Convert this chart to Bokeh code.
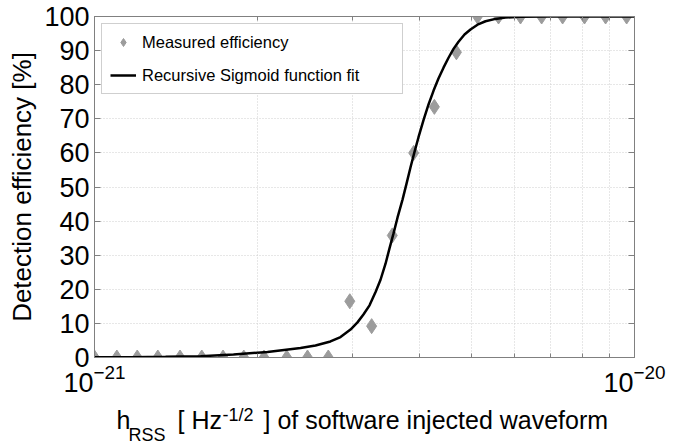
from bokeh.plotting import figure
from bokeh.layouts import column
from bokeh.models import (Range1d, FixedTicker, LinearAxis, LogAxis, Legend, LegendItem,
                          CustomJSTickFormatter, LogTickFormatter)
from bokeh.core.properties import value
from bokeh.embed import file_html
from bokeh.resources import INLINE

# ---------------- data ----------------
h_measured = [1.00e-21, 1.10e-21, 1.20e-21, 1.31e-21, 1.44e-21, 1.58e-21, 1.73e-21,
              1.89e-21, 2.06e-21, 2.27e-21, 2.48e-21, 2.71e-21, 2.97e-21, 3.26e-21,
              3.56e-21, 3.90e-21, 4.26e-21, 4.68e-21, 5.12e-21, 5.60e-21, 6.15e-21,
              6.73e-21, 7.36e-21, 8.08e-21, 8.84e-21, 9.67e-21]
eff_measured = [0, 0, 0, 0, 0, 0, 0, 0, 0, 0, 0, 0,
                16.5, 9.2, 35.8, 60.0, 73.5, 89.5,
                100, 100, 100, 100, 100, 100, 100, 100]

h_fit = [1.000e-21, 1.166e-21, 1.354e-21, 1.572e-21, 1.809e-21, 2.091e-21, 2.407e-21,
         2.566e-21, 2.735e-21, 2.855e-21, 2.979e-21, 3.069e-21, 3.148e-21, 3.231e-21,
         3.315e-21, 3.386e-21, 3.459e-21, 3.518e-21, 3.579e-21, 3.640e-21, 3.719e-21,
         3.783e-21, 3.848e-21, 3.914e-21, 3.981e-21, 4.067e-21, 4.155e-21, 4.244e-21,
         4.335e-21, 4.429e-21, 4.525e-21, 4.622e-21, 4.722e-21, 4.844e-21, 4.969e-21,
         5.120e-21, 5.298e-21, 5.528e-21, 5.769e-21, 6.151e-21, 6.842e-21, 1.000e-20]
eff_fit = [0.05, 0.1, 0.2, 0.35, 0.9, 1.6, 2.8,
           3.5, 4.7, 6.0, 8.2, 10.3, 12.6, 15.3,
           19.2, 22.8, 27.5, 32.0, 36.4, 41.0, 46.3,
           51.0, 55.8, 60.3, 64.6, 69.6, 74.2, 78.2,
           81.8, 85.0, 87.9, 90.5, 92.6, 94.7, 96.2,
           97.6, 98.6, 99.3, 99.7, 99.9, 100.0, 100.0]

x_major_ticks = [1e-21, 1e-20]
x_minor_ticks = [2e-21, 3e-21, 4e-21, 5e-21, 6e-21, 7e-21, 8e-21, 9e-21]
y_ticks = [0, 10, 20, 30, 40, 50, 60, 70, 80, 90, 100]

series_labels = ["Measured efficiency", "Recursive Sigmoid function fit"]
y_title = "Detection efficiency [%]"
x_title_parts = ["h", "RSS", "[ Hz", "-1/2", "] of software injected waveform"]

FONT = "Liberation Sans"
AXIS_COL = "#808080"
W = 686
H_MAIN = 404
H_XLAB = 41
LEFT = 94
RIGHT = 52

p = figure(width=W, height=H_MAIN, x_axis_type="log", title=None,
           x_range=Range1d(1e-21, 1e-20), y_range=Range1d(0, 100),
           output_backend="svg", toolbar_location=None,
           min_border_left=LEFT, min_border_right=RIGHT, min_border_top=16, min_border_bottom=47)
p.outline_line_color = AXIS_COL
p.background_fill_color = "white"
p.border_fill_color = "white"

# grid
p.xgrid.ticker = FixedTicker(ticks=x_major_ticks + x_minor_ticks)
p.ygrid.ticker = FixedTicker(ticks=y_ticks)
for g in (p.xgrid, p.ygrid):
    g.grid_line_color = "#cfcfcf"
    g.grid_line_dash = "1 2"
    g.grid_line_width = 1

# x axis (bottom)
xa = p.xaxis[0]
xa.ticker = FixedTicker(ticks=x_major_ticks, minor_ticks=x_minor_ticks)
xa.formatter = LogTickFormatter()
xa.major_label_text_font = FONT
xa.major_label_text_font_size = "27px"
xa.major_label_text_color = "black"
xa.major_label_standoff = 6
xa.axis_line_color = AXIS_COL
xa.major_tick_line_color = AXIS_COL
xa.minor_tick_line_color = AXIS_COL
xa.major_tick_in = 6
xa.major_tick_out = 0
xa.minor_tick_in = 4
xa.minor_tick_out = 0

# y axis (left)
ya = p.yaxis[0]
ya.ticker = FixedTicker(ticks=y_ticks)
ya.major_label_text_font = FONT
ya.major_label_text_font_size = "27px"
ya.major_label_text_color = "black"
ya.major_label_standoff = 5
ya.axis_line_color = AXIS_COL
ya.major_tick_line_color = AXIS_COL
ya.major_tick_in = 6
ya.major_tick_out = 0
ya.minor_tick_line_color = None
ya.axis_label = y_title
ya.axis_label_text_font = FONT
ya.axis_label_text_font_size = "26px"
ya.axis_label_text_font_style = "normal"
ya.axis_label_text_color = "black"
ya.axis_label_standoff = 4

blank = CustomJSTickFormatter(code="return ''")
top = LogAxis(ticker=FixedTicker(ticks=x_major_ticks, minor_ticks=x_minor_ticks),
              formatter=blank, axis_line_color=AXIS_COL,
              major_tick_line_color=AXIS_COL, minor_tick_line_color=AXIS_COL,
              major_tick_in=6, major_tick_out=0, minor_tick_in=4, minor_tick_out=0,
              major_label_text_font_size="1px", major_label_standoff=0)
p.add_layout(top, "above")
right = LinearAxis(ticker=FixedTicker(ticks=y_ticks), formatter=blank,
                   axis_line_color=AXIS_COL, major_tick_line_color=AXIS_COL,
                   minor_tick_line_color=None, major_tick_in=6, major_tick_out=0,
                   major_label_text_font_size="1px", major_label_standoff=0)
p.add_layout(right, "right")

# data
pts = p.scatter(h_measured, eff_measured, marker="diamond", size=15,
                fill_color="#9c9c9c", line_color="#9c9c9c")
fit = p.line(h_fit, eff_fit, line_color="black", line_width=2.5)

legend = Legend(items=[LegendItem(label=series_labels[0], renderers=[pts]),
                       LegendItem(label=series_labels[1], renderers=[fit])],
                location="top_left", margin=7, padding=8, spacing=13,
                glyph_width=26, glyph_height=20, label_standoff=6,
                label_width=252, label_height=20,
                label_text_font=FONT, label_text_font_size="16.5px",
                label_text_color="black",
                border_line_color="#a0a0a0", border_line_width=1,
                background_fill_color="white", background_fill_alpha=1.0)
p.add_layout(legend, "center")

# x axis title strip (with sub/superscript pieces); x in page pixels, y top-down
q = figure(width=W, height=H_XLAB, title=None,
           x_range=Range1d(LEFT, W - RIGHT), y_range=Range1d(H_XLAB, 0),
           output_backend="svg", toolbar_location=None,
           min_border_left=LEFT, min_border_right=RIGHT, min_border_top=0, min_border_bottom=0,
           x_axis_location=None, y_axis_location=None)
q.outline_line_color = None
q.grid.visible = False
q.background_fill_color = "white"
q.border_fill_color = "white"

q.text(x=[116, 177, 263], y=[15.5, 15.5, 15.5],
       text=[x_title_parts[0], x_title_parts[2], x_title_parts[4]],
       text_font=value(FONT), text_font_size="25px", text_color="black",
       text_baseline="middle", text_align="left")
q.text(x=[128], y=[30.5], text=[x_title_parts[1]],
       text_font=value(FONT), text_font_size="18px", text_color="black",
       text_baseline="middle", text_align="left")
q.text(x=[222], y=[10.5], text=[x_title_parts[3]],
       text_font=value(FONT), text_font_size="18px", text_color="black",
       text_baseline="middle", text_align="left")

layout = column(p, q, spacing=0)
open("out.html", "w").write(file_html(layout, INLINE))
